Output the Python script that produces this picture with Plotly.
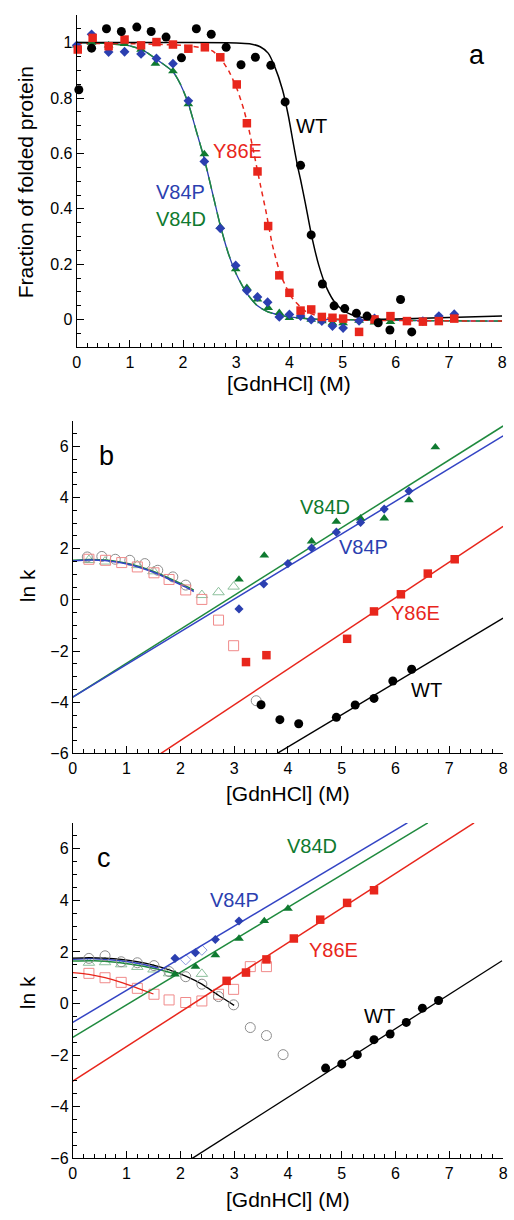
import plotly.graph_objects as go

FONT = "Liberation Sans, Arial, sans-serif"

# ---------------- Panel a: equilibrium denaturation ----------------
A_WT_X = [0.04, 0.28, 0.56, 0.84, 1.13, 1.40, 1.68, 1.97, 2.25, 2.53, 2.81, 3.09, 3.36, 3.65, 3.92,
          4.21, 4.41, 4.62, 4.84, 5.04, 5.26, 5.46, 5.67, 5.89, 6.09, 6.30]
A_WT_Y = [0.83, 0.98, 1.05, 1.04, 1.056, 1.04, 1.02, 0.945, 1.05, 1.03, 0.983, 0.92, 0.947, 0.918, 0.786,
          0.557, 0.306, 0.129, 0.05, 0.04, 0.023, 0.013, -0.011, -0.037, 0.073, -0.044]
A_Y86E_X = [0.02, 0.30, 0.60, 0.90, 1.21, 1.50, 1.81, 2.10, 2.41, 2.70, 3.01, 3.20, 3.40, 3.60, 3.81,
            4.00, 4.21, 4.41, 4.61, 4.81, 5.01, 5.31, 5.60, 5.90, 6.21, 6.51, 6.81, 7.10]
A_Y86E_Y = [0.975, 1.017, 0.987, 1.011, 0.99, 1.002, 0.993, 0.978, 0.983, 0.947, 0.849, 0.709, 0.535, 0.338, 0.16,
            0.097, 0.033, 0.037, 0.01, 0.007, 0.004, -0.044, 0.001, 0.013, -0.005, -0.007, -0.005, 0.004]
A_V84P_X = [0.0, 0.28, 0.60, 0.90, 1.21, 1.50, 1.81, 2.10, 2.40, 2.70, 2.99, 3.20, 3.40, 3.59, 3.81,
            4.00, 4.21, 4.41, 4.61, 4.81, 5.01, 5.31, 5.60, 6.51, 6.81, 7.10]
A_V84P_Y = [0.99, 1.03, 0.966, 0.967, 0.959, 0.943, 0.924, 0.79, 0.571, 0.33, 0.196, 0.105, 0.082, 0.063, 0.01,
            0.019, 0.013, 0.0, -0.005, -0.023, -0.03, -0.004, 0.005, -0.005, 0.013, 0.02]
A_V84D_X = [0.0, 0.28, 0.60, 0.90, 1.21, 1.48, 1.81, 2.10, 2.40, 2.70, 2.99, 3.20, 3.40, 3.60, 3.81,
            4.00, 4.21, 4.41, 4.61, 4.81, 5.01, 5.31, 5.60, 5.90]
A_V84D_Y = [0.99, 1.0, 0.99, 0.995, 0.975, 0.924, 0.897, 0.778, 0.598, 0.335, 0.183, 0.115, 0.073, 0.043, 0.025,
            0.007, 0.013, 0.0, -0.005, -0.012, -0.012, -0.003, -0.01, -0.008]

# fitted curves
A_FIT_WT_X = [0, 1, 2, 3, 3.25, 3.45, 3.6, 3.72, 3.87, 3.98, 4.07, 4.15, 4.21, 4.30, 4.41, 4.55, 4.70, 4.86,
              5.0, 5.16, 5.4, 5.6, 6, 7, 8]
A_FIT_WT_Y = [1.0, 1.0, 1.0, 0.999, 0.996, 0.985, 0.962, 0.915, 0.83, 0.736, 0.64, 0.557, 0.505, 0.42, 0.31,
              0.198, 0.115, 0.061, 0.035, 0.019, 0.007, 0.002, 0.003, 0.008, 0.013]
A_FIT_Y86E_X = [0, 1, 2, 2.39, 2.55, 2.70, 2.88, 3.02, 3.14, 3.24, 3.36, 3.45, 3.56, 3.68, 3.84, 4.05, 4.30,
                4.6, 5.0, 6, 7, 8]
A_FIT_Y86E_Y = [0.997, 0.996, 0.99, 0.98, 0.97, 0.945, 0.89, 0.83, 0.76, 0.685, 0.575, 0.49, 0.39, 0.27, 0.16,
                0.079, 0.031, 0.01, 0.0, -0.003, -0.004, -0.005]
A_FIT_V84_X = [0, 0.5, 1.0, 1.25, 1.5, 1.81, 1.95, 2.10, 2.25, 2.40, 2.55, 2.70, 2.85, 3.0, 3.2, 3.4, 3.6,
               4.0, 4.5, 5, 6, 7, 8]
A_FIT_V84_Y = [1.0, 0.998, 0.988, 0.972, 0.94, 0.895, 0.85, 0.78, 0.68, 0.58, 0.46, 0.34, 0.24, 0.165, 0.095,
               0.05, 0.028, 0.01, 0.002, 0.0, -0.002, -0.004, -0.005]

# ---------------- Panel b: kinetics ----------------
B_WT_X = [3.50, 3.85, 4.20, 4.90, 5.25, 5.60, 5.95, 6.30]
B_WT_Y = [-4.10, -4.68, -4.84, -4.59, -4.11, -3.85, -3.17, -2.71]
B_Y86E_X = [3.22, 3.60, 5.10, 5.60, 6.10, 6.60, 7.10]
B_Y86E_Y = [-2.43, -2.16, -1.52, -0.45, 0.22, 1.03, 1.59]
B_V84D_X = [3.09, 3.56, 4.44, 4.90, 5.35, 5.79, 6.25, 6.74]
B_V84D_Y = [0.80, 1.74, 2.29, 3.06, 3.19, 3.19, 3.90, 5.97]
B_V84P_X = [3.09, 3.55, 4.00, 4.44, 4.90, 5.35, 5.79, 6.25]
B_V84P_Y = [-0.35, 0.62, 1.42, 2.03, 2.65, 3.03, 3.55, 4.26]

B_WT_OPEN_X = [0.27, 0.54, 0.79, 1.06, 1.34, 1.58, 1.86, 2.10, 3.41]
B_WT_OPEN_Y = [1.68, 1.70, 1.59, 1.55, 1.42, 1.16, 0.90, 0.58, -3.94]
B_Y86E_OPEN_X = [0.30, 0.61, 0.91, 1.20, 1.51, 1.79, 2.10, 2.40, 2.71, 2.99]
B_Y86E_OPEN_Y = [1.59, 1.55, 1.46, 1.29, 1.06, 0.80, 0.39, 0.02, -0.79, -1.79]
B_V84D_OPEN_X = [0.30, 0.60, 1.20, 1.50, 2.40, 2.71, 2.99]
B_V84D_OPEN_Y = [1.56, 1.50, 1.36, 1.12, 0.19, 0.30, 0.52]

B_FIT_V84D_X = [0, 8]
B_FIT_V84D_Y = [-3.80, 6.80]
B_FIT_V84P_X = [0, 8]
B_FIT_V84P_Y = [-3.80, 6.41]
B_FIT_Y86E_X = [1.64, 8]
B_FIT_Y86E_Y = [-6.0, 2.88]
B_FIT_WT_X = [3.80, 8]
B_FIT_WT_Y = [-6.0, -0.71]
B_CURVE_X = [0, 0.3, 0.6, 0.9, 1.2, 1.5, 1.8, 2.1, 2.25]
B_CURVE_V84P_Y = [1.52, 1.56, 1.54, 1.45, 1.30, 1.08, 0.80, 0.50, 0.33]
B_CURVE_V84D_Y = [1.55, 1.58, 1.56, 1.47, 1.33, 1.11, 0.84, 0.55, 0.38]

# ---------------- Panel c: kinetics ----------------
C_WT_X = [4.70, 5.00, 5.29, 5.60, 5.90, 6.20, 6.50, 6.80]
C_WT_Y = [-2.50, -2.34, -1.98, -1.40, -1.18, -0.73, -0.18, 0.12]
C_Y86E_X = [2.86, 3.22, 3.60, 4.11, 4.60, 5.10, 5.60]
C_Y86E_Y = [0.88, 1.20, 1.71, 2.52, 3.25, 3.90, 4.39]
C_V84D_X = [1.90, 2.28, 2.65, 3.09, 3.56, 4.00]
C_V84D_Y = [1.13, 1.43, 1.88, 2.52, 3.20, 3.68]
C_V84P_X = [1.90, 2.28, 2.65, 3.09]
C_V84P_Y = [1.75, 1.97, 2.48, 3.20]

C_WT_OPEN_X = [0.30, 0.60, 0.90, 1.20, 1.51, 1.79, 2.10, 2.40, 2.71, 2.99, 3.30, 3.60, 3.91]
C_WT_OPEN_Y = [1.75, 1.85, 1.62, 1.58, 1.47, 1.24, 1.04, 0.75, 0.27, -0.05, -0.93, -1.24, -1.98]
C_Y86E_OPEN_X = [0.30, 0.60, 0.90, 1.20, 1.51, 1.79, 2.10, 2.40, 2.71, 2.99, 3.30, 3.60]
C_Y86E_OPEN_Y = [1.17, 1.00, 0.82, 0.59, 0.36, 0.14, 0.04, 0.10, 0.36, 0.55, 1.43, 1.43]
C_V84D_OPEN_X = [0.30, 0.60, 0.90, 1.20, 1.50, 1.79, 2.40]
C_V84D_OPEN_Y = [1.58, 1.60, 1.52, 1.42, 1.32, 1.17, 1.15]
C_V84P_OPEN_X = [2.10, 2.40]
C_V84P_OPEN_Y = [1.70, 2.07]

C_FIT_V84P_X = [0, 6.22]
C_FIT_V84P_Y = [-0.73, 7.0]
C_FIT_V84D_X = [0, 6.60]
C_FIT_V84D_Y = [-1.31, 7.0]
C_FIT_Y86E_X = [0, 7.46]
C_FIT_Y86E_Y = [-3.01, 7.0]
C_FIT_WT_X = [2.22, 7.98]
C_FIT_WT_Y = [-6.0, 1.66]
C_CURVE_WT_X = [0, 0.3, 0.6, 0.9, 1.2, 1.5, 1.8, 2.1, 2.4, 2.7, 3.0]
C_CURVE_WT_Y = [1.76, 1.78, 1.76, 1.71, 1.62, 1.49, 1.30, 1.06, 0.75, 0.33, -0.07]
C_CURVE_V84P_X = [0, 0.4, 0.8, 1.2, 1.6]
C_CURVE_V84P_Y = [1.72, 1.74, 1.68, 1.56, 1.38]
C_CURVE_V84D_X = [0, 0.4, 0.8, 1.2, 1.6, 1.9]
C_CURVE_V84D_Y = [1.65, 1.66, 1.60, 1.48, 1.32, 1.15]
C_CURVE_Y86E_X = [0, 0.3, 0.6, 0.9, 1.2, 1.5]
C_CURVE_Y86E_Y = [1.20, 1.13, 1.00, 0.82, 0.60, 0.37]

# ---------------- styles ----------------
BLACK = "#000000"
RED = "#e8261c"
GREEN = "#0f7a30"
BLUE = "#2b3fb0"
LGREEN_LINE = "#1f8a3e"
LBLUE_LINE = "#3344c4"
GRAY_O = "#8c8c8c"
RED_O = "#f08a8a"
GREEN_O = "#8cc09c"
BLUE_O = "#8c9ae0"

fig = go.Figure()


def line(ax, x, y, color, width=1.5, dash="solid", shape="linear"):
    fig.add_trace(go.Scatter(x=x, y=y, mode="lines", xaxis="x" + ax, yaxis="y" + ax,
                             line=dict(color=color, width=width, dash=dash, shape=shape,
                                       smoothing=0.6), hoverinfo="skip"))


def pts(ax, x, y, color, symbol, size=9, lw=0):
    fig.add_trace(go.Scatter(x=x, y=y, mode="markers", xaxis="x" + ax, yaxis="y" + ax,
                             marker=dict(color=color, symbol=symbol, size=size,
                                         line=dict(color=color, width=lw)),
                             cliponaxis=False, hoverinfo="skip"))


# panel a
line("", A_FIT_V84_X, A_FIT_V84_Y, BLUE, 1.3, "solid", "spline")
line("", A_FIT_V84_X, A_FIT_V84_Y, LGREEN_LINE, 1.5, "12px,6px", "spline")
line("", A_FIT_Y86E_X, A_FIT_Y86E_Y, RED, 1.5, "5px,4px", "spline")
line("", A_FIT_WT_X, A_FIT_WT_Y, BLACK, 1.5, "solid", "spline")
pts("", A_V84D_X, A_V84D_Y, GREEN, "triangle-up", 8.5)
pts("", A_V84P_X, A_V84P_Y, BLUE, "diamond", 7.5)
pts("", A_Y86E_X, A_Y86E_Y, RED, "square", 8.5)
pts("", A_WT_X, A_WT_Y, BLACK, "circle", 9)

# panel b
pts("2", B_V84D_OPEN_X, B_V84D_OPEN_Y, GREEN_O, "triangle-up-open", 10, 1)
pts("2", B_WT_OPEN_X, B_WT_OPEN_Y, GRAY_O, "circle-open", 10, 1)
line("2", B_CURVE_X, B_CURVE_V84D_Y, LGREEN_LINE, 1.5, "solid", "spline")
line("2", B_CURVE_X, B_CURVE_V84P_Y, LBLUE_LINE, 1.5, "solid", "spline")
pts("2", B_Y86E_OPEN_X, B_Y86E_OPEN_Y, RED_O, "square-open", 10, 1)
line("2", B_FIT_V84D_X, B_FIT_V84D_Y, LGREEN_LINE)
line("2", B_FIT_V84P_X, B_FIT_V84P_Y, LBLUE_LINE)
line("2", B_FIT_Y86E_X, B_FIT_Y86E_Y, RED)
line("2", B_FIT_WT_X, B_FIT_WT_Y, BLACK, 1.3)
pts("2", B_V84D_X, B_V84D_Y, GREEN, "triangle-up", 8.5)
pts("2", B_V84P_X, B_V84P_Y, BLUE, "diamond", 7)
pts("2", B_Y86E_X, B_Y86E_Y, RED, "square", 8.5)
pts("2", B_WT_X, B_WT_Y, BLACK, "circle", 9)

# panel c
pts("3", C_V84D_OPEN_X, C_V84D_OPEN_Y, GREEN_O, "triangle-up-open", 10, 1)
pts("3", C_V84P_OPEN_X, C_V84P_OPEN_Y, BLUE_O, "diamond-open", 8, 1)
pts("3", C_Y86E_OPEN_X, C_Y86E_OPEN_Y, RED_O, "square-open", 10, 1)
line("3", C_CURVE_V84D_X, C_CURVE_V84D_Y, LGREEN_LINE, 1.5, "solid", "spline")
line("3", C_CURVE_V84P_X, C_CURVE_V84P_Y, LBLUE_LINE, 1.5, "solid", "spline")
line("3", C_CURVE_Y86E_X, C_CURVE_Y86E_Y, RED, 1.3, "solid", "spline")
line("3", C_CURVE_WT_X, C_CURVE_WT_Y, BLACK, 1.3, "solid", "spline")
pts("3", C_WT_OPEN_X, C_WT_OPEN_Y, GRAY_O, "circle-open", 10, 1)
line("3", C_FIT_V84P_X, C_FIT_V84P_Y, LBLUE_LINE)
line("3", C_FIT_V84D_X, C_FIT_V84D_Y, LGREEN_LINE)
line("3", C_FIT_Y86E_X, C_FIT_Y86E_Y, RED)
line("3", C_FIT_WT_X, C_FIT_WT_Y, BLACK, 1.3)
pts("3", C_V84D_X, C_V84D_Y, GREEN, "triangle-up", 8.5)
pts("3", C_V84P_X, C_V84P_Y, BLUE, "diamond", 7)
pts("3", C_Y86E_X, C_Y86E_Y, RED, "square", 8.5)
pts("3", C_WT_X, C_WT_Y, BLACK, "circle", 9)


def xax(domain, anchor):
    return dict(domain=domain, anchor=anchor, range=[0, 8], dtick=1, tick0=0,
                showline=True, linecolor="black", linewidth=1, ticks="inside", ticklen=7,
                tickwidth=1, tickcolor="black", showgrid=False, zeroline=False,
                tickfont=dict(size=16, color="black", family=FONT),
                minor=dict(ticks="inside", ticklen=4, tickcolor="black", dtick=0.2, showgrid=False))


def yax(domain, anchor, rng, dtick, mdtick):
    return dict(domain=domain, anchor=anchor, range=rng, dtick=dtick, tick0=0,
                showline=True, linecolor="black", linewidth=1, ticks="inside", ticklen=7,
                tickwidth=1, tickcolor="black", showgrid=False, zeroline=False,
                tickfont=dict(size=16, color="black", family=FONT),
                minor=dict(ticks="inside", ticklen=4, tickcolor="black", dtick=mdtick, showgrid=False))


XD_A = [74 / 514, 507 / 514]
XD_BC = [70 / 514, 508 / 514]
YD_A = [1 - 350 / 1220, 1 - 15 / 1220]
YD_B = [1 - 759 / 1220, 1 - 424 / 1220]
YD_C = [1 - 1167 / 1220, 1 - 829 / 1220]

ann = []


def label(text, x, y, color, ref="", size=20):
    ann.append(dict(text=text, x=x, y=y, xref="x" + ref, yref="y" + ref, showarrow=False,
                    font=dict(size=size, color=color, family=FONT), xanchor="center", yanchor="middle"))


def ptext(text, px, py, size=21, angle=0):
    ann.append(dict(text=text, x=px / 514, y=1 - py / 1220, xref="paper", yref="paper", showarrow=False,
                    font=dict(size=size, color="black", family=FONT), textangle=angle,
                    xanchor="center", yanchor="middle"))


# panel a labels
label("WT", 4.42, 0.70, BLACK)
label("Y86E", 3.03, 0.61, RED)
label("V84P", 1.96, 0.46, BLUE)
label("V84D", 1.96, 0.365, GREEN)
ptext("a", 481, 55, 27)
ptext("[GdnHCl] (M)", 290, 386, 21)
ptext("Fraction of folded protein", 22, 184, 21, -90)

# panel b labels
label("V84D", 4.68, 3.62, GREEN, "2")
label("V84P", 5.41, 2.07, BLUE, "2")
label("Y86E", 6.37, -0.52, RED, "2")
label("WT", 6.57, -3.53, BLACK, "2")
ptext("b", 104, 459, 27)
ptext("[GdnHCl] (M)", 289, 799, 21)
ptext("ln k", 24, 590, 21, -90)

# panel c labels
label("V84D", 4.44, 6.10, GREEN, "3")
label("V84P", 3.01, 4.00, BLUE, "3")
label("Y86E", 4.84, 2.07, RED, "3")
label("WT", 5.71, -0.50, BLACK, "3")
ptext("c", 102, 864, 27)
ptext("[GdnHCl] (M)", 289, 1208, 21)
ptext("ln k", 24, 1000, 21, -90)

fig.update_layout(
    width=514, height=1220, margin=dict(l=0, r=0, t=0, b=0),
    paper_bgcolor="white", plot_bgcolor="white", showlegend=False,
    font=dict(family=FONT, color="black"),
    xaxis=xax(XD_A, "y"), yaxis=yax(YD_A, "x", [-0.1, 1.1], 0.2, 0.05),
    xaxis2=xax(XD_BC, "y2"), yaxis2=yax(YD_B, "x2", [-6, 7], 2, 0.5),
    xaxis3=xax(XD_BC, "y3"), yaxis3=yax(YD_C, "x3", [-6, 7], 2, 0.5),
    annotations=ann,
)

fig.write_html("out.html")
